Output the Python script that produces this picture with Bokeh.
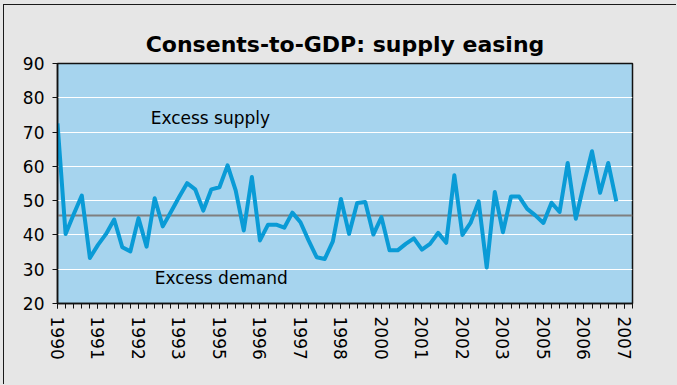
from bokeh.plotting import figure
from bokeh.models import Range1d, FixedTicker, Span, Label
from bokeh.layouts import column
from bokeh.embed import file_html
from bokeh.resources import INLINE

# Quarterly consents-to-GDP ratio, 1990Q1 .. 2007Q2
values = [
    72.5, 40.3, 46.0, 51.5, 33.3, 37.1, 40.3, 44.5, 36.4, 35.2,
    44.9, 36.6, 50.7, 42.5, 46.7, 51.0, 55.1, 53.3, 47.1, 53.3,
    53.9, 60.3, 53.0, 41.3, 56.9, 38.4, 43.0, 43.0, 42.1, 46.5,
    43.7, 38.4, 33.5, 33.0, 38.1, 50.5, 40.3, 49.3, 49.6, 40.1,
    45.2, 35.5, 35.5, 37.4, 39.0, 35.7, 37.4, 40.6, 37.7, 57.4,
    40.0, 43.5, 49.8, 30.5, 52.5, 40.8, 51.2, 51.2, 47.6, 45.7,
    43.5, 49.4, 46.7, 61.0, 44.7, 54.9, 64.4, 52.3, 61.0, 49.8,
]
n_categories = 72          # 1990Q1 .. 2007Q4 on the category axis
label_every = 5            # a label on every 5th quarter
year_labels = ["1990", "1991", "1992", "1993", "1995", "1996", "1997", "1998",
               "2000", "2001", "2002", "2003", "2005", "2006", "2007"]
y_ticks = [20, 30, 40, 50, 60, 70, 80, 90]
mean_level = 45.7

x = list(range(len(values)))

p = figure(width=673, height=380,
           x_range=Range1d(0, n_categories - 1), y_range=Range1d(20, 90),
           output_backend="svg", toolbar_location=None,
           min_border_left=53, min_border_right=45,
           min_border_top=58, min_border_bottom=82,
           background_fill_color="#a6d4ee", border_fill_color="#e6e6e6",
           outline_line_color="#111111", outline_line_width=1.5,
           title="Consents-to-GDP: supply easing")
p.margin = (4, 0, 0, 3)
p.styles = {"border-top": "1.5px solid #1a1a1a", "border-left": "1.5px solid #1a1a1a"}

p.title.align = "center"
p.title.text_font = "DejaVu Sans"
p.title.text_font_size = "22px"
p.title.text_font_style = "bold"
p.title.text_color = "#000000"
p.title.standoff = 13

major = [i * label_every for i in range(len(year_labels))]
p.xaxis.ticker = FixedTicker(ticks=major, minor_ticks=list(range(n_categories)))
p.xaxis.major_label_overrides = {m: lab for m, lab in zip(major, year_labels)}
p.xaxis.major_label_orientation = "vertical"
p.yaxis.ticker = FixedTicker(ticks=y_ticks)

for ax in (p.xaxis[0], p.yaxis[0]):
    ax.axis_line_color = "#111111"
    ax.axis_line_width = 1.5
    ax.major_tick_line_color = "#111111"
    ax.minor_tick_line_color = "#111111"
    ax.major_tick_in = 0
    ax.major_tick_out = 5
    ax.minor_tick_in = 0
    ax.minor_tick_out = 5
    ax.major_label_text_font = "DejaVu Sans"
    ax.major_label_text_font_size = "17px"
    ax.major_label_text_color = "#000000"
    ax.major_label_standoff = 8
p.yaxis.minor_tick_line_color = None

p.xgrid.grid_line_color = None
p.ygrid.grid_line_color = "#ffffff"
p.ygrid.grid_line_width = 1.2

mean_span = Span(location=mean_level, dimension="width", line_color="#7f7f7f",
                 line_width=2, level="underlay")
p.add_layout(mean_span)

p.line(x, values, line_color="#0a9bd6", line_width=4, line_join="round")

p.add_layout(Label(x=11.5, y=74.1, text="Excess supply", text_font="DejaVu Sans",
                   text_font_size="17px", text_color="#000000", text_baseline="alphabetic"))
p.add_layout(Label(x=12.0, y=27.4, text="Excess demand", text_font="DejaVu Sans",
                   text_font_size="17px", text_color="#000000", text_baseline="alphabetic"))

layout = column(p, width=677, height=385, styles={"background-color": "#e6e6e6"})

open("out.html", "w").write(file_html(layout, INLINE))
